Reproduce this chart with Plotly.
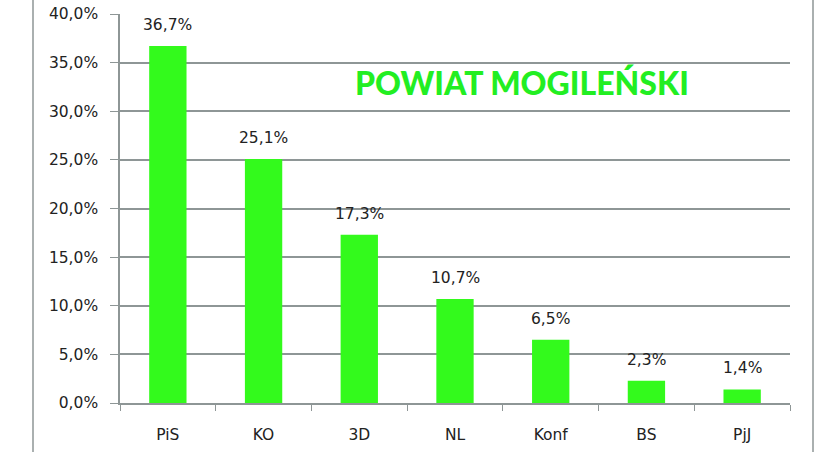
import plotly.graph_objects as go

categories = ["PiS", "KO", "3D", "NL", "Konf", "BS", "PjJ"]
values = [36.7, 25.1, 17.3, 10.7, 6.5, 2.3, 1.4]
y_ticks = [0, 5, 10, 15, 20, 25, 30, 35, 40]
y_tick_labels = [f"{t:.1f}".replace(".", ",") + "%" for t in y_ticks]
title_text = "POWIAT MOGILEŃSKI"

GREEN = "#33FA1C"
GRID = "#8E9696"
TEXT = "#222222"

fig = go.Figure()
fig.add_trace(go.Bar(x=categories, y=values, marker=dict(color=GREEN, line=dict(width=0)),
                     hoverinfo="skip"))

for c, v in zip(categories, values):
    fig.add_annotation(x=c, y=v, xref="x", yref="y",
                       text=f"{v:.1f}".replace(".", ",") + "%",
                       showarrow=False, yanchor="bottom", yshift=10,
                       font=dict(family="DejaVu Sans", size=15.5, color=TEXT))

fig.add_annotation(x=0.6, y=0.825, xref="paper", yref="paper", text=title_text,
                   showarrow=False, xanchor="center", yanchor="middle",
                   font=dict(family="Lato", size=32, color="#22EE22", weight=900))

for xp in [(33 - 120) / 670, (813 - 120) / 670]:
    fig.add_shape(type="line", xref="paper", yref="paper", x0=xp, x1=xp, y0=-0.2, y1=1.1,
                  line=dict(color=GRID, width=1.5))

fig.update_layout(
    width=840, height=452,
    margin=dict(l=120, r=50, t=14, b=49, autoexpand=False),
    paper_bgcolor="white", plot_bgcolor="white",
    bargap=0.61, showlegend=False,
    font=dict(family="DejaVu Sans", size=15.5, color=TEXT),
)
fig.update_xaxes(type="category", showline=True, linecolor=GRID, linewidth=1.5,
                 ticks="outside", tickson="boundaries", ticklen=6, tickcolor=GRID,
                 ticklabelstandoff=17, automargin=False,
                 tickfont=dict(size=15.5, color=TEXT), showgrid=False)
fig.update_yaxes(range=[0, 40], tickvals=y_ticks, ticktext=y_tick_labels,
                 showline=True, linecolor=GRID, linewidth=1.5,
                 showgrid=True, gridcolor=GRID, gridwidth=1.5,
                 ticks="outside", ticklen=8, tickcolor=GRID, automargin=False,
                 ticklabelstandoff=9,
                 tickfont=dict(size=15.5, color=TEXT), zeroline=False)

fig.write_html("out.html")
